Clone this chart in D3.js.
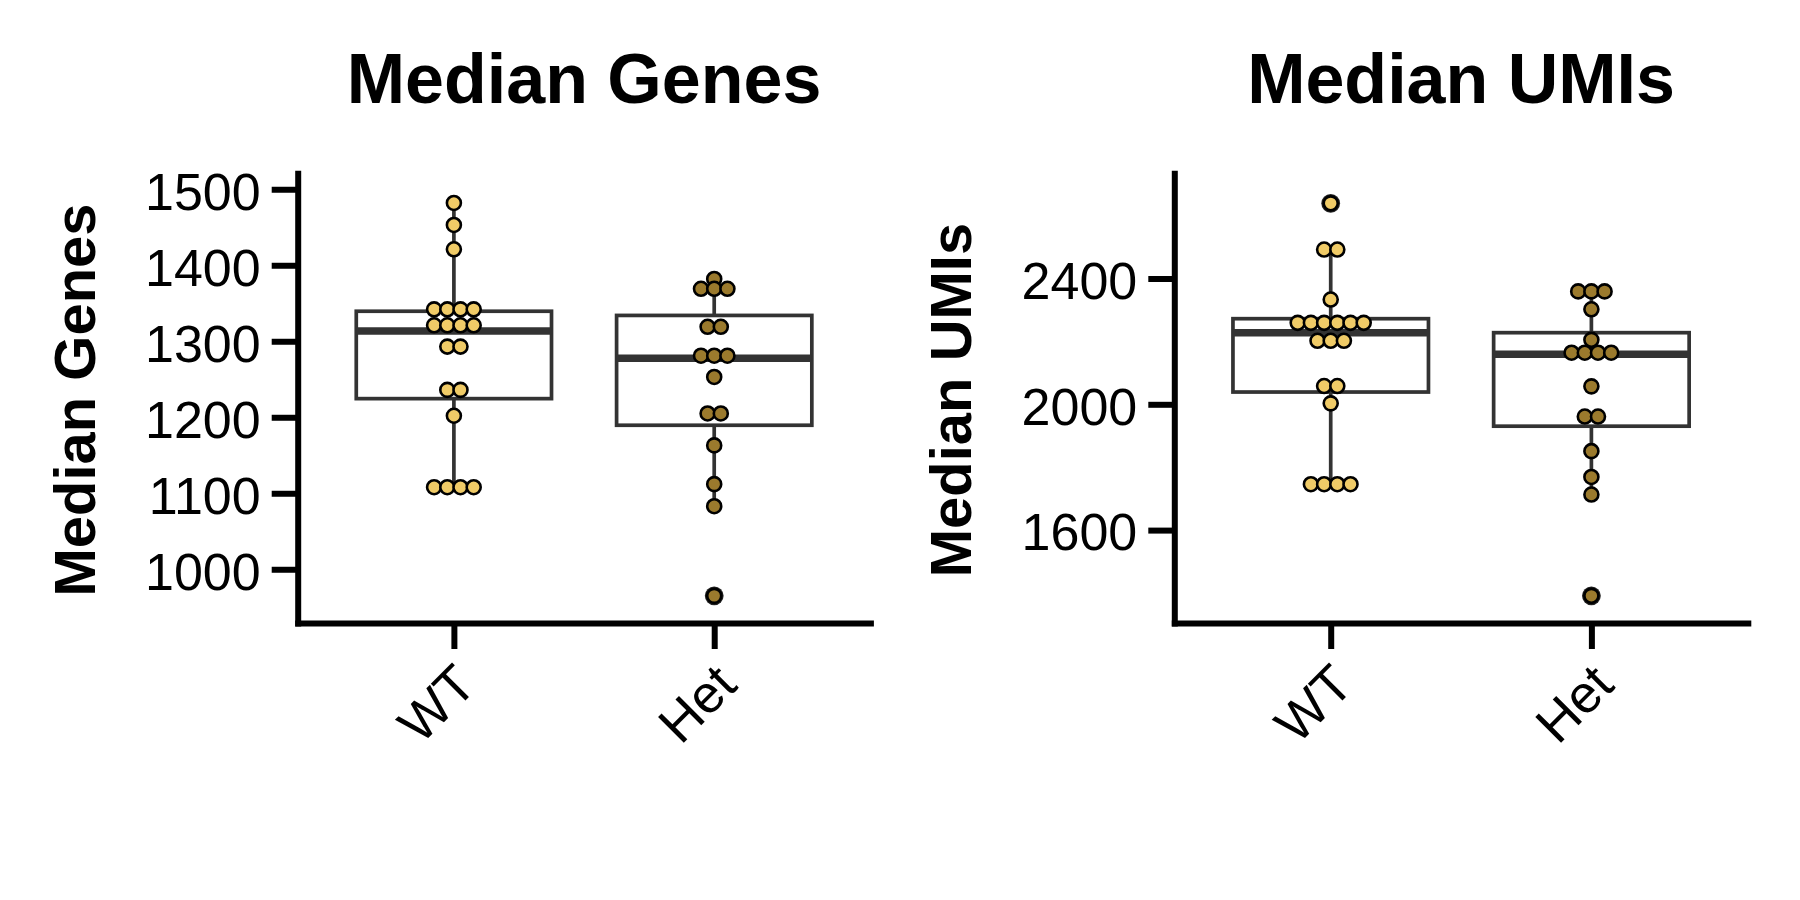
<!DOCTYPE html>
<html>
<head>
<meta charset="utf-8">
<script src="https://cdn.jsdelivr.net/npm/d3@7"></script>
<style>
  body { margin: 0; background: #fff; }
  svg { display: block; font-family: "Liberation Sans", Arial, Helvetica, sans-serif; }
</style>
</head>
<body>
<svg id="chart" width="1800" height="900"></svg>
<script>
// groups on the x axis
const categories = ['WT', 'Het'];

// dot values (binned, as drawn) - median genes
const genesWT = [1482, 1453, 1421, 1342, 1342, 1342, 1342, 1321, 1321, 1321, 1321,
  1293, 1293, 1236, 1236, 1202, 1108, 1108, 1108, 1108];
const genesHet = [1382, 1369, 1369, 1369, 1319, 1319, 1281, 1281, 1281, 1253,
  1205, 1205, 1163, 1112, 1083, 965];

// dot values - median UMIs
const umisWT = [2639, 2492, 2492, 2333, 2259, 2259, 2259, 2259, 2259, 2259,
  2202, 2202, 2202, 2058, 2058, 2003, 1746, 1746, 1746, 1746];
const umisHet = [2359, 2359, 2359, 2302, 2205, 2164, 2164, 2164, 2164, 2057,
  1961, 1961, 1851, 1769, 1713, 1391];

// box stats per category: [lower whisker, q1, median, q3, upper whisker]
const genesStats = [[1108, 1224.5, 1313.6, 1339.5, 1482], [1083, 1189.5, 1277.8, 1334, 1382]];
const umisStats = [[1746, 2039, 2227.3, 2272.2, 2492], [1713, 1930.4, 2159.4, 2227.7, 2359]];

// outliers flagged by the boxplot
const genesOutliers = [[], [965]];
const umisOutliers = [[2639], [1391]];

// y ticks
const genesTicks = [1000, 1100, 1200, 1300, 1400, 1500];
const umisTicks = [1600, 2000, 2400];

const fills = { WT: '#F0CB67', Het: '#9B7A2D' };

const svg = d3.select('#chart');

function drawPanel(opts) {
  const g = svg.append('g');

  const x = d3.scalePoint()
    .domain(categories)
    .range(opts.xRange)
    .padding(0.6);
  const step = x.step();

  const y = d3.scaleLinear()
    .domain(opts.yDomain)
    .range([623, 173.3]);

  // boxes + whiskers
  categories.forEach((c, i) => {
    const [lo, q1, med, q3, hi] = opts.stats[i];
    const cx = x(c);
    const bw = step * 0.75;
    const box = g.append('g')
      .style('stroke', '#333')
      .style('fill', 'none');
    box.append('line')
      .attr('x1', cx).attr('x2', cx)
      .attr('y1', y(q3)).attr('y2', y(hi))
      .style('stroke-width', 3.7);
    box.append('line')
      .attr('x1', cx).attr('x2', cx)
      .attr('y1', y(q1)).attr('y2', y(lo))
      .style('stroke-width', 3.7);
    box.append('rect')
      .attr('x', cx - bw / 2)
      .attr('y', y(q3))
      .attr('width', bw)
      .attr('height', y(q1) - y(q3))
      .style('fill', '#fff')
      .style('stroke-width', 3.7);
    box.append('line')
      .attr('x1', cx - bw / 2).attr('x2', cx + bw / 2)
      .attr('y1', y(med)).attr('y2', y(med))
      .style('stroke-width', 7.5);

    // outlier points sit under the dots
    g.selectAll(null)
      .data(opts.outliers[i])
      .enter().append('circle')
      .attr('cx', cx)
      .attr('cy', d => y(d))
      .attr('r', 9.4)
      .style('fill', '#222');
  });

  // dots, stacked side by side when they share a bin
  const spacing = 13.2;
  categories.forEach((c, i) => {
    const rows = d3.groups(opts.dots[i], d => d);
    const pts = [];
    rows.forEach(([v, arr]) => {
      arr.forEach((d, j) => {
        pts.push({ v: d, off: (j - (arr.length - 1) / 2) * spacing });
      });
    });
    g.selectAll(null)
      .data(pts)
      .enter().append('circle')
      .attr('cx', d => x(c) + d.off)
      .attr('cy', d => y(d.v))
      .attr('r', 7)
      .style('fill', fills[c])
      .style('stroke', '#000')
      .style('stroke-width', 2.6);
  });

  // axes
  const yAxis = g.append('g')
    .attr('transform', `translate(${opts.xRange[0]},0)`)
    .call(d3.axisLeft(y).tickValues(opts.ticks).tickFormat(d3.format('d'))
      .tickSize(26).tickPadding(11).tickSizeOuter(0));
  yAxis.select('.domain').style('stroke-width', 6).style('stroke-linecap', 'square');
  yAxis.selectAll('.tick line').style('stroke-width', 6);
  yAxis.selectAll('.tick text')
    .attr('dy', '0.38em')
    .style('font-size', '52px')
    .style('font-family', '"Liberation Sans", Arial, sans-serif')
    .style('fill', '#000');

  const xAxis = g.append('g')
    .attr('transform', 'translate(0,623)')
    .call(d3.axisBottom(x).tickSize(26).tickSizeOuter(0));
  xAxis.select('.domain').style('stroke-width', 6).style('stroke-linecap', 'square');
  xAxis.selectAll('.tick line').style('stroke-width', 6);
  xAxis.selectAll('.tick text')
    .attr('y', 0)
    .attr('transform', 'translate(0,40) rotate(-45)')
    .attr('dy', '0.65em')
    .style('text-anchor', 'end')
    .style('font-size', '53px')
    .style('font-family', '"Liberation Sans", Arial, sans-serif')
    .style('fill', '#000');

  // titles
  g.append('text')
    .attr('x', (opts.xRange[0] + opts.xRange[1]) / 2)
    .attr('y', 102.7)
    .attr('text-anchor', 'middle')
    .style('font-size', '70px')
    .style('font-weight', 'bold')
    .text(opts.title);

  g.append('text')
    .attr('transform', `translate(${opts.xRange[0] - 203},400) rotate(-90)`)
    .attr('text-anchor', 'middle')
    .style('font-size', '58px')
    .style('font-weight', 'bold')
    .text(opts.yLabel);
}

drawPanel({
  title: 'Median Genes',
  yLabel: 'Median Genes',
  xRange: [297.7, 870.4],
  yDomain: [929.3, 1521],
  ticks: genesTicks,
  dots: [genesWT, genesHet],
  stats: genesStats,
  outliers: genesOutliers
});

drawPanel({
  title: 'Median UMIs',
  yLabel: 'Median UMIs',
  xRange: [1174.3, 1747.8],
  yDomain: [1304.6, 2734.5],
  ticks: umisTicks,
  dots: [umisWT, umisHet],
  stats: umisStats,
  outliers: umisOutliers
});
</script>
</body>
</html>
